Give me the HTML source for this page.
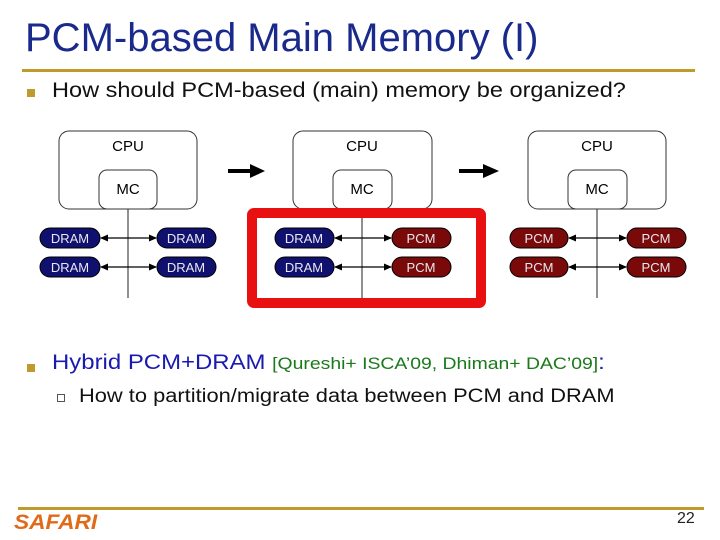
<!DOCTYPE html>
<html><head><meta charset="utf-8"><style>
body{margin:0;width:720px;height:540px;background:#fff;position:relative;overflow:hidden;font-family:"Liberation Sans","DejaVu Sans",sans-serif}
.a{position:absolute;white-space:nowrap}
.s{transform-origin:0 0}
</style></head><body>
<div class="a" style="left:25px;top:16px;font-size:40px;color:#1a2a8c">PCM-based Main Memory (I)</div>
<div class="a" style="left:22px;top:69px;width:673px;height:3px;background:#c09a2a"></div>
<div class="a" style="left:27px;top:89px;width:8px;height:8px;background:#c09a2a"></div>
<div class="a s" style="left:52px;top:79px;font-size:21px;color:#111;transform:scaleX(1.12)">How should PCM-based (main) memory be organized?</div>
<svg class="a" style="left:0;top:0" width="720" height="540">
<defs><marker id="ah" markerWidth="8" markerHeight="8" refX="7" refY="4" orient="auto-start-reverse" markerUnits="userSpaceOnUse"><path d="M0,0.5L8,4L0,7.5Z" fill="#000"/></marker></defs>
<g font-family="Liberation Sans,sans-serif" font-size="15" text-anchor="middle">
<rect x="59" y="131" width="138" height="78" rx="10" fill="#fff" stroke="#333"/>
<text x="128" y="151">CPU</text>
<rect x="99" y="170" width="58" height="39" rx="8" fill="#fff" stroke="#333"/>
<text x="128" y="194">MC</text>
<line x1="128" y1="209" x2="128" y2="298" stroke="#222"/>
<rect x="293" y="131" width="139" height="78" rx="10" fill="#fff" stroke="#333"/>
<text x="362" y="151">CPU</text>
<rect x="333" y="170" width="59" height="39" rx="8" fill="#fff" stroke="#333"/>
<text x="362" y="194">MC</text>
<line x1="362" y1="209" x2="362" y2="298" stroke="#222"/>
<rect x="252" y="213" width="229" height="90" fill="none" stroke="#e81010" stroke-width="10" rx="2"/>
<rect x="528" y="131" width="138" height="78" rx="10" fill="#fff" stroke="#333"/>
<text x="597" y="151">CPU</text>
<rect x="568" y="170" width="59" height="39" rx="8" fill="#fff" stroke="#333"/>
<text x="597" y="194">MC</text>
<line x1="597" y1="209" x2="597" y2="298" stroke="#222"/>
<path d="M228,171H252" stroke="#000" stroke-width="4"/><path d="M250,164L265,171L250,178Z"/>
<path d="M459,171H485" stroke="#000" stroke-width="4"/><path d="M483,164L499,171L483,178Z"/>
<g stroke="#000" stroke-width="1.2">
<line x1="101" y1="238" x2="156" y2="238" marker-start="url(#ah)" marker-end="url(#ah)"/>
<line x1="101" y1="267" x2="156" y2="267" marker-start="url(#ah)" marker-end="url(#ah)"/>
<line x1="335" y1="238" x2="391" y2="238" marker-start="url(#ah)" marker-end="url(#ah)"/>
<line x1="335" y1="267" x2="391" y2="267" marker-start="url(#ah)" marker-end="url(#ah)"/>
<line x1="569" y1="238" x2="626" y2="238" marker-start="url(#ah)" marker-end="url(#ah)"/>
<line x1="569" y1="267" x2="626" y2="267" marker-start="url(#ah)" marker-end="url(#ah)"/>
</g>
<g font-size="13" fill="#e8e8f0">
<rect x="40" y="228" width="60" height="20" rx="10" fill="#10106e" stroke="#000"/><text x="70" y="243">DRAM</text>
<rect x="40" y="257" width="60" height="20" rx="10" fill="#10106e" stroke="#000"/><text x="70" y="272">DRAM</text>
<rect x="157" y="228" width="59" height="20" rx="10" fill="#10106e" stroke="#000"/><text x="186" y="243">DRAM</text>
<rect x="157" y="257" width="59" height="20" rx="10" fill="#10106e" stroke="#000"/><text x="186" y="272">DRAM</text>
<rect x="275" y="228" width="59" height="20" rx="10" fill="#10106e" stroke="#000"/><text x="304" y="243">DRAM</text>
<rect x="275" y="257" width="59" height="20" rx="10" fill="#10106e" stroke="#000"/><text x="304" y="272">DRAM</text>
<rect x="392" y="228" width="59" height="20" rx="10" fill="#7a0a0a" stroke="#000"/><text x="421" y="243">PCM</text>
<rect x="392" y="257" width="59" height="20" rx="10" fill="#7a0a0a" stroke="#000"/><text x="421" y="272">PCM</text>
<rect x="510" y="228" width="58" height="20" rx="10" fill="#7a0a0a" stroke="#000"/><text x="539" y="243">PCM</text>
<rect x="510" y="257" width="58" height="20" rx="10" fill="#7a0a0a" stroke="#000"/><text x="539" y="272">PCM</text>
<rect x="627" y="228" width="59" height="20" rx="10" fill="#7a0a0a" stroke="#000"/><text x="656" y="243">PCM</text>
<rect x="627" y="257" width="59" height="20" rx="10" fill="#7a0a0a" stroke="#000"/><text x="656" y="272">PCM</text>
</g>
</g>
</svg>
<div class="a" style="left:27px;top:364px;width:8px;height:8px;background:#c09a2a"></div>
<div class="a s" style="left:52px;top:351px;font-size:21px;color:#1a1ab0;transform:scaleX(1.14)">Hybrid PCM+DRAM <span style="font-size:17px;color:#1a7a1a">[Qureshi+ ISCA’09, Dhiman+ DAC’09]</span>:</div>
<div class="a" style="left:57px;top:394px;width:6px;height:6px;border:1px solid #555"></div>
<div class="a s" style="left:79px;top:386px;font-size:19px;color:#111;transform:scaleX(1.15)">How to partition/migrate data between PCM and DRAM</div>
<div class="a" style="left:18px;top:507px;width:686px;height:3px;background:#c09a2a"></div>
<div class="a s" style="left:14px;top:511px;font-size:21px;font-weight:bold;font-style:italic;color:#e06a1a;transform:scaleX(1.08)">SAFARI</div>
<div class="a" style="left:677px;top:510px;font-size:16px;color:#222">22</div>
</body></html>
